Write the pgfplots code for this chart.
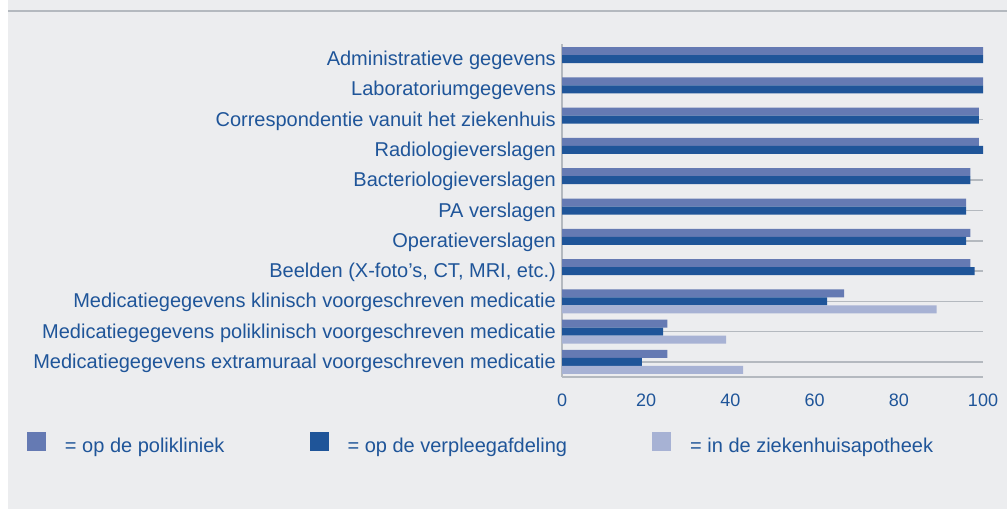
\documentclass[border=0pt]{standalone}
\usepackage{fontspec}
\setmainfont{Liberation Sans}
\usepackage{pgfplots}
\pgfplotsset{compat=1.18}
\definecolor{bg}{HTML}{ECEDEF}
\definecolor{c1}{HTML}{657AB3}
\definecolor{c2}{HTML}{1F5599}
\definecolor{c3}{HTML}{A7B2D4}
\definecolor{txt}{HTML}{1F5599}
\definecolor{gridc}{HTML}{B4B9BF}
\pgfplotsset{sqlegend/.style={legend image code/.code={\fill[##1] (0bp,-5bp) rectangle (19bp,14bp);}}}
\begin{document}
\begin{tikzpicture}[x=1bp,y=1bp]
\fill[bg] (0,0) rectangle (1007,-509);
\fill[white] (0,0) rectangle (8,-509);
\draw[gridc, line width=2bp] (8,-11) -- (1007,-11);
\begin{axis}[
  at={(562bp,-377bp)}, anchor=south west,
  scale only axis, width=421bp, height=333bp,
  xmin=0, xmax=100, ymin=-0.5, ymax=10.5,
  axis x line*=bottom, axis y line*=left,
  axis line style={draw=gridc, line width=1.5bp},
  xtick={0,20,...,100},
  ytick={0,...,10},
  yticklabels={
    Medicatiegegevens extramuraal voorgeschreven medicatie,
    Medicatiegegevens poliklinisch voorgeschreven medicatie,
    Medicatiegegevens klinisch voorgeschreven medicatie,
    {Beelden (X-foto’s, CT, MRI, etc.)},
    Operatieverslagen,
    PA verslagen,
    Bacteriologieverslagen,
    Radiologieverslagen,
    Correspondentie vanuit het ziekenhuis,
    Laboratoriumgegevens,
    Administratieve gegevens},
  major tick length=0pt,
  ymajorgrids, major grid style={draw=gridc, line width=1.5bp},
  xbar, bar width=8bp,
  sqlegend,
  /pgf/number format/assume math mode=true,
  tick label style={text=txt},
  xticklabel style={font=\fontsize{18bp}{20bp}\selectfont, anchor=north, inner sep=0pt, yshift=-16.5bp},
  yticklabel style={font=\fontsize{20bp}{24bp}\selectfont, anchor=base east, inner sep=0pt, xshift=-6bp, yshift=-6.5bp},
  legend style={at={(-1.2708,-0.1652)}, anchor=north west, draw=none, fill=none,
    inner sep=0pt, outer sep=0pt, text=txt, font=\fontsize{20bp}{24bp}\selectfont,
    nodes={inner sep=0pt},
    /tikz/every odd column/.append style={column sep=19bp},
    /tikz/every even column/.append style={column sep=85bp}},
  legend columns=-1, legend cell align=left,
]
\addplot[fill=c1, draw=none, bar shift=8bp] coordinates {
  (100,10) (100,9) (99,8) (99,7) (97,6) (96,5) (97,4) (97,3) (67,2) (25,1) (25,0)};
\addplot[fill=c2, draw=none, bar shift=0bp] coordinates {
  (100,10) (100,9) (99,8) (100,7) (97,6) (96,5) (96,4) (98,3) (63,2) (24,1) (19,0)};
\addplot[fill=c3, draw=none, bar shift=-8bp] coordinates {
  (89,2) (39,1) (43,0)};
\legend{= op de polikliniek, = op de verpleegafdeling, = in de ziekenhuisapotheek}
\end{axis}
\pgfresetboundingbox
\path (0,0) rectangle (1007,-509);
\end{tikzpicture}
\end{document}
